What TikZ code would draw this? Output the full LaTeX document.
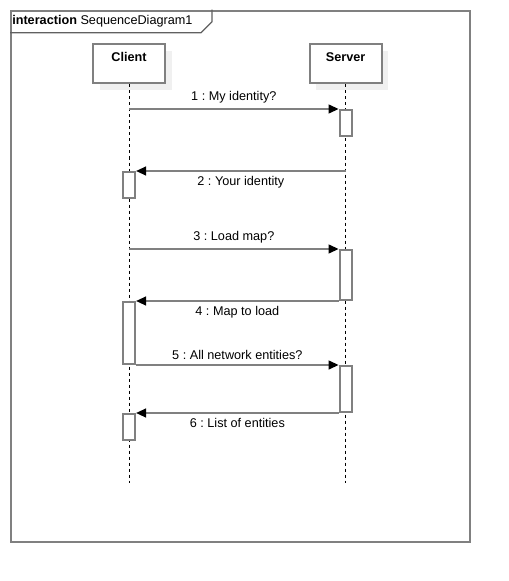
\documentclass[tikz,border=0pt]{standalone}
\usepackage{fontspec}
\setmainfont{Liberation Sans}
\usetikzlibrary{arrows.meta,positioning,shadows}
\definecolor{framegray}{RGB}{128,128,128}
\definecolor{tabgray}{RGB}{96,96,96}
\definecolor{shadowgray}{RGB}{240,240,240}
\frenchspacing

\begin{document}
\begin{tikzpicture}[
    x=0.75pt, y=-0.75pt,
    font=\fontsize{9.5pt}{11pt}\selectfont,
    frame/.style={rectangle, draw=framegray, line width=1.5pt, minimum width=344.25pt,
                  minimum height=398.25pt, inner sep=0pt},
    tabline/.style={draw=tabgray, line width=0.9pt},
    lifebox/.style={rectangle, draw=framegray, line width=1.5pt, fill=white,
                    minimum width=54pt, minimum height=29.25pt, inner sep=0pt,
                    drop shadow={shadow xshift=5pt, shadow yshift=-5pt, fill=shadowgray, opacity=1}},
    lifetext/.style={anchor=north, font=\fontsize{9.5pt}{11pt}\selectfont\bfseries,
                     inner sep=0pt, yshift=-6.5pt},
    act/.style={rectangle, draw=framegray, line width=1.5pt, fill=white,
                minimum width=9pt, inner sep=0pt, anchor=north},
    lifeline/.style={dash pattern=on 2.25pt off 2.25pt, line width=0.75pt},
    msg/.style={draw=framegray, line width=1.5pt, -{Triangle[length=7.5pt,width=6.5pt,black]}}
]
\useasboundingbox (0,0) rectangle (509,581);

% frame and its tab
\node[frame, anchor=north west] (frame) at (10,10) {};
\node[anchor=west, inner sep=0pt] (title) at (12,21) {\textbf{interaction} SequenceDiagram1};
\draw[tabline] ([yshift=-17pt]frame.north west) -- ++(191,0) -- ++(11,-11) -- ++(0,-12);

% lifelines
\node[lifebox, label={[lifetext]north:Client}] (client) at (129,64) {};
\node[lifebox, label={[lifetext]north:Server}, right=107pt of client] (server) {};
\coordinate (bottom) at (0,483);
\draw[lifeline] (client.south) -- (client |- bottom);
\draw[lifeline] (server.south) -- (server |- bottom);

% activations
\node[act, minimum height=19.5pt] (s1) at (server |- 0,109) {};
\node[act, minimum height=19.5pt] (c1) at (client |- 0,171) {};
\node[act, minimum height=37.5pt] (s2) at (server |- 0,249) {};
\node[act, minimum height=46.5pt] (c2) at (client |- s2.south) {};
\node[act, minimum height=34.5pt] (s3) at (server |- c2.south) {};
\node[act, minimum height=19.5pt] (c3) at (client |- s3.south) {};

% messages
\draw[msg] (client |- s1.north) -- node[above] {1 : My identity?} (s1.north west);
\draw[msg] (server |- c1.north) -- node[below] {2 : Your identity} (c1.north east);
\draw[msg] (client |- s2.north) -- node[above] {3 : Load map?} (s2.north west);
\draw[msg] (s2.south west) -- node[below] {4 : Map to load} (c2.north east);
\draw[msg] (c2.south east) -- node[above] {5 : All network entities?} (s3.north west);
\draw[msg] (s3.south west) -- node[below] {6 : List of entities} (c3.north east);

\end{tikzpicture}
\end{document}
